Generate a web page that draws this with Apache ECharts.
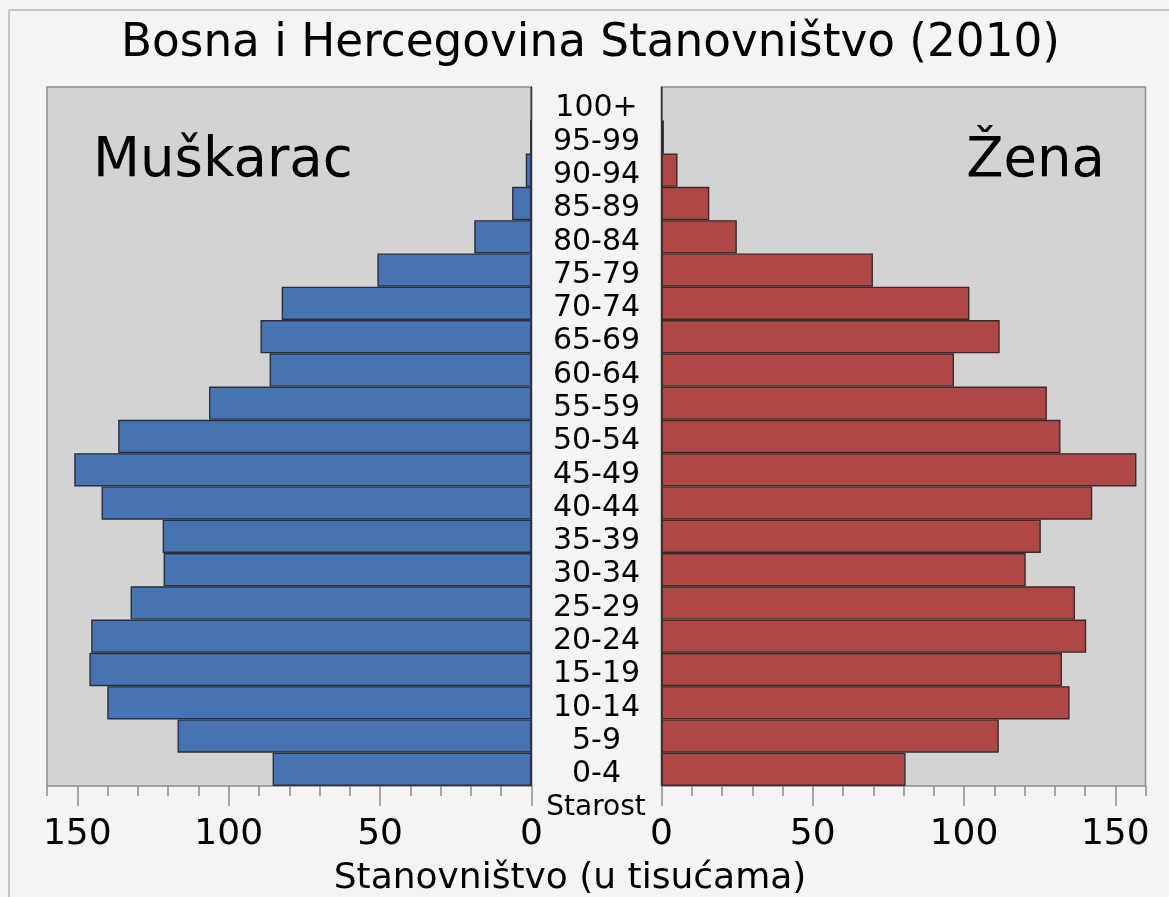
<!DOCTYPE html>
<html><head><meta charset="utf-8">
<script src="https://cdn.jsdelivr.net/npm/echarts@6/dist/echarts.min.js"></script>
<style>html,body{margin:0;padding:0;background:#f4f4f4}#c{width:1169px;height:897px}</style>
</head><body><div id="c"></div><script>
// Age groups, bottom to top
const ageGroups = ['0-4','5-9','10-14','15-19','20-24','25-29','30-34','35-39','40-44','45-49','50-54','55-59','60-64','65-69','70-74','75-79','80-84','85-89','90-94','95-99','100+'];
// Population in thousands
const male   = [85.5,116.9,140.1,146.0,145.4,132.4,121.5,121.8,142.0,151.0,136.5,106.5,86.5,89.5,82.5,50.9,18.9,6.4,1.9,0.5,0.1];
const female = [80.7,111.5,134.9,132.4,140.4,136.7,120.4,125.4,142.4,157.0,131.9,127.4,96.7,111.8,101.8,69.9,24.9,15.8,5.3,0.8,0.2];
const axisMax = 160;
const majorMax = 150;
const minorStep = 10;
const majorStep = 50;
const titleText = 'Bosna i Hercegovina Stanovništvo (2010)';
const leftLabel = 'Muškarac';
const rightLabel = 'Žena';
const ageName = 'Starost';
const valueName = 'Stanovništvo (u tisućama)';

(function () {
const FONT = 'DejaVu Sans';
const gTop = 87, gHeight = 699;
const lLeft = 47, lRight = 531.5, rLeft = 661.5, rRight = 1145.5;
const pxPerUnitL = (lRight - lLeft) / axisMax;
const pxPerUnitR = (rRight - rLeft) / axisMax;

const chart = echarts.init(document.getElementById('c'), null, {renderer: 'canvas'});

const mainX = (gi, inverse) => ({
  type: 'value', gridIndex: gi, min: 0, max: axisMax, interval: minorStep, inverse,
  axisLine: {show: false}, splitLine: {show: false},
  axisTick: {show: true, length: 10, lineStyle: {color: '#8a8a8a', width: 1.5}},
  axisLabel: {show: false}
});
const majorX = (gi, inverse) => ({
  type: 'value', gridIndex: gi, min: 0, max: majorMax, interval: majorStep, inverse,
  axisLine: {show: false}, splitLine: {show: false},
  axisTick: {show: true, length: 20, lineStyle: {color: '#8a8a8a', width: 1.5}},
  axisLabel: {show: true, margin: 49, verticalAlign: 'middle', fontSize: 36, fontFamily: FONT, color: '#000'}
});

const option = {
  backgroundColor: '#f4f4f4',
  animation: false,
  textStyle: {fontFamily: FONT},
  grid: [
    {left: lLeft, top: gTop, width: lRight - lLeft, height: gHeight, show: true, backgroundColor: '#d3d3d3', borderColor: '#8a8a8a', borderWidth: 1.5},
    {left: rLeft, top: gTop, width: rRight - rLeft, height: gHeight, show: true, backgroundColor: '#d3d3d3', borderColor: '#8a8a8a', borderWidth: 1.5},
    {left: lRight - majorMax * pxPerUnitL, top: gTop, width: majorMax * pxPerUnitL, height: gHeight, show: false},
    {left: rLeft, top: gTop, width: majorMax * pxPerUnitR, height: gHeight, show: false}
  ],
  xAxis: [mainX(0, true), mainX(1, false), majorX(2, true), majorX(3, false)],
  yAxis: [
    {type: 'category', gridIndex: 0, data: ageGroups, position: 'right',
     axisLine: {show: true, lineStyle: {color: '#333', width: 1.2}}, axisTick: {show: false}, axisLabel: {show: false}},
    {type: 'category', gridIndex: 1, data: ageGroups, position: 'left',
     axisLine: {show: true, lineStyle: {color: '#333', width: 1.2}}, axisTick: {show: false},
     axisLabel: {show: true, interval: 0, margin: 65, align: 'center', verticalAlign: 'middle',
       formatter: v => '{a|' + v + '}',
       rich: {a: {padding: [10, 0, 0, 0], fontSize: 30, fontFamily: FONT, color: '#000', align: 'center'}},
       fontSize: 30, fontFamily: FONT, color: '#000'}},
    {type: 'value', gridIndex: 2, show: false},
    {type: 'value', gridIndex: 3, show: false}
  ],
  series: [
    {type: 'bar', xAxisIndex: 0, yAxisIndex: 0, data: male, barWidth: '100%', barCategoryGap: 0,
     itemStyle: {color: '#4674b3', borderColor: '#2a2f3a', borderWidth: 1.4}},
    {type: 'bar', xAxisIndex: 1, yAxisIndex: 1, data: female, barWidth: '100%', barCategoryGap: 0,
     itemStyle: {color: '#b04747', borderColor: '#3a2a2a', borderWidth: 1.4}}
  ],
  graphic: [
    {type: 'line', shape: {x1: 9, y1: 10, x2: 1169, y2: 10}, style: {stroke: '#c4c4c4', lineWidth: 2}, silent: true},
    {type: 'line', shape: {x1: 9, y1: 10, x2: 9, y2: 897}, style: {stroke: '#c4c4c4', lineWidth: 2}, silent: true},
    {type: 'text', x: 590.5, y: 44, style: {text: titleText, font: '45.3px "DejaVu Sans"', fill: '#000', align: 'center', verticalAlign: 'middle', textAlign: 'center', textVerticalAlign: 'middle'}},
    {type: 'text', x: 93, y: 162, style: {text: leftLabel, font: '54.5px "DejaVu Sans"', fill: '#000', align: 'left', verticalAlign: 'middle', textAlign: 'left', textVerticalAlign: 'middle'}},
    {type: 'text', x: 1105, y: 162, style: {text: rightLabel, font: '54.5px "DejaVu Sans"', fill: '#000', align: 'right', verticalAlign: 'middle', textAlign: 'right', textVerticalAlign: 'middle'}},
    {type: 'text', x: 596, y: 808, style: {text: ageName, font: '28px "DejaVu Sans"', fill: '#000', align: 'center', verticalAlign: 'middle', textAlign: 'center', textVerticalAlign: 'middle'}},
    {type: 'text', x: 570, y: 879, style: {text: valueName, font: '36px "DejaVu Sans"', fill: '#000', align: 'center', verticalAlign: 'middle', textAlign: 'center', textVerticalAlign: 'middle'}}
  ]
};
chart.setOption(option);
})();
</script></body></html>
